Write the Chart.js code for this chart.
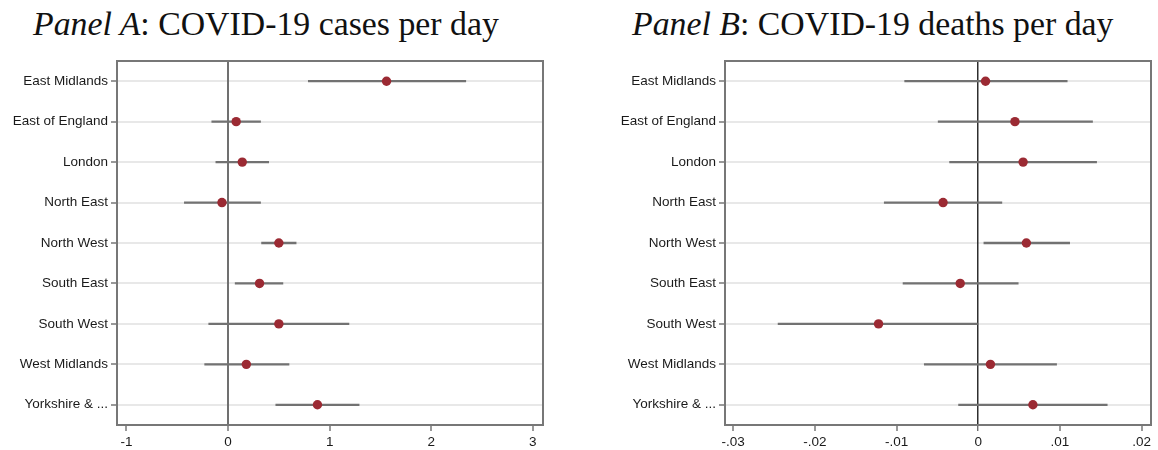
<!DOCTYPE html>
<html>
<head>
<meta charset="utf-8">
<script src="https://cdn.jsdelivr.net/npm/chart.js@4.4.0/dist/chart.umd.min.js"></script>
<style>
    html, body { margin: 0; padding: 0; background: #fff; }
    #wrap { position: relative; width: 1158px; height: 450px; overflow: hidden; }
    .panel { position: absolute; top: 0; height: 450px; }
    .ttl {
        position: absolute; top: 5px; white-space: nowrap;
        font-family: "Liberation Serif", serif; font-size: 33.8px; line-height: 38px; color: #111;
    }
</style>
</head>
<body>
<div id="wrap">
    <div class="ttl" id="ttlA" style="left:33px"><i>Panel A</i>: COVID-19 cases per day</div>
    <div class="ttl" id="ttlB" style="left:632px"><i>Panel B</i>: COVID-19 deaths per day</div>
    <div class="panel" style="left:0; width:580px"><canvas id="chartA" width="580" height="450"></canvas></div>
    <div class="panel" style="left:580px; width:578px"><canvas id="chartB" width="578" height="450"></canvas></div>
</div>
<script>
// regiones y estimaciones
const regions = ['East Midlands', 'East of England', 'London', 'North East', 'North West',
    'South East', 'South West', 'West Midlands', 'Yorkshire & ...'];

const casesEst = [1.56, 0.08, 0.14, -0.06, 0.50, 0.31, 0.50, 0.18, 0.88];
const casesLo  = [0.79, -0.16, -0.12, -0.43, 0.33, 0.07, -0.19, -0.23, 0.47];
const casesHi  = [2.34, 0.32, 0.40, 0.32, 0.67, 0.54, 1.19, 0.60, 1.29];

const deathsEst = [0.0009, 0.0045, 0.0055, -0.0043, 0.0059, -0.0022, -0.0122, 0.0015, 0.0067];
const deathsLo  = [-0.0090, -0.0049, -0.0035, -0.0115, 0.0007, -0.0092, -0.0245, -0.0066, -0.0024];
const deathsHi  = [0.0109, 0.0140, 0.0145, 0.0029, 0.0112, 0.0049, 0.0000, 0.0096, 0.0158];

const casesTicks = [-1, 0, 1, 2, 3];
const casesTickLabels = ['-1', '0', '1', '2', '3'];
const deathsTicks = [-0.03, -0.02, -0.01, 0, 0.01, 0.02];
const deathsTickLabels = ['-.03', '-.02', '-.01', '0', '.01', '.02'];

const FONT = { family: '"Liberation Sans", Arial, sans-serif', size: 13.5 };

// marco completo alrededor del area del grafico
const boxPlugin = {
    id: 'box',
    afterDraw(chart) {
        const a = chart.chartArea, ctx = chart.ctx;
        ctx.save();
        ctx.strokeStyle = '#777';
        ctx.lineWidth = 2;
        ctx.strokeRect(a.left, a.top, a.right - a.left, a.bottom - a.top);
        ctx.restore();
    }
};

function makePanel(id, est, lo, hi, ticks, tickLabels, range, zero, areaLeft, padRight) {
    const ctx = document.getElementById(id).getContext('2d');
    return new Chart(ctx, {
        type: 'bar',
        data: {
            labels: regions,
            datasets: [
                {
                    type: 'line',
                    indexAxis: 'y',
                    data: est,
                    showLine: false,
                    pointRadius: 4.7,
                    pointBackgroundColor: '#9b2a33',
                    pointBorderColor: '#9b2a33',
                    pointBorderWidth: 0,
                    order: 0
                },
                {
                    type: 'bar',
                    indexAxis: 'y',
                    data: lo.map((l, i) => [l, hi[i]]),
                    backgroundColor: '#727272',
                    barThickness: 1.6,
                    borderSkipped: false,
                    order: 1
                }
            ]
        },
        options: {
            indexAxis: 'y',
            responsive: false,
            animation: false,
            layout: { padding: { top: 61, right: padRight, bottom: 0, left: 0 } },
            plugins: { legend: { display: false }, tooltip: { enabled: false } },
            scales: {
                x: {
                    type: 'linear',
                    min: range[0],
                    max: range[1],
                    afterBuildTicks: s => { s.ticks = ticks.map(v => ({ value: v })); },
                    afterFit: s => { s.height = 25; },
                    ticks: {
                        font: FONT, color: '#1a1a1a', padding: 3, maxRotation: 0,
                        callback: (v) => tickLabels[ticks.indexOf(v)] ?? ''
                    },
                    grid: {
                        z: -1,
                        color: c => (c.tick && c.tick.value === 0) ? zero.color : 'rgba(0,0,0,0)',
                        lineWidth: c => (c.tick && c.tick.value === 0) ? zero.width : 0,
                        tickColor: '#555', tickLength: 6, tickWidth: 1.2
                    },
                    border: { display: false }
                },
                y: {
                    type: 'category',
                    offset: true,
                    afterFit: s => { s.width = areaLeft; },
                    ticks: { font: FONT, color: '#1a1a1a', padding: 3 },
                    grid: {
                        z: -2,
                        offset: false, color: '#e8e8e8', lineWidth: 2,
                        tickColor: '#555', tickLength: 6, tickWidth: 1.2
                    },
                    border: { display: false }
                }
            }
        },
        plugins: [boxPlugin]
    });
}

makePanel('chartA', casesEst, casesLo, casesHi, casesTicks, casesTickLabels,
    [-1.093, 3.10], { color: '#707070', width: 2 }, 117, 37);
makePanel('chartB', deathsEst, deathsLo, deathsHi, deathsTicks, deathsTickLabels,
    [-0.0310, 0.02116], { color: '#2e2e2e', width: 1.5 }, 145, 7);
</script>
</body>
</html>
